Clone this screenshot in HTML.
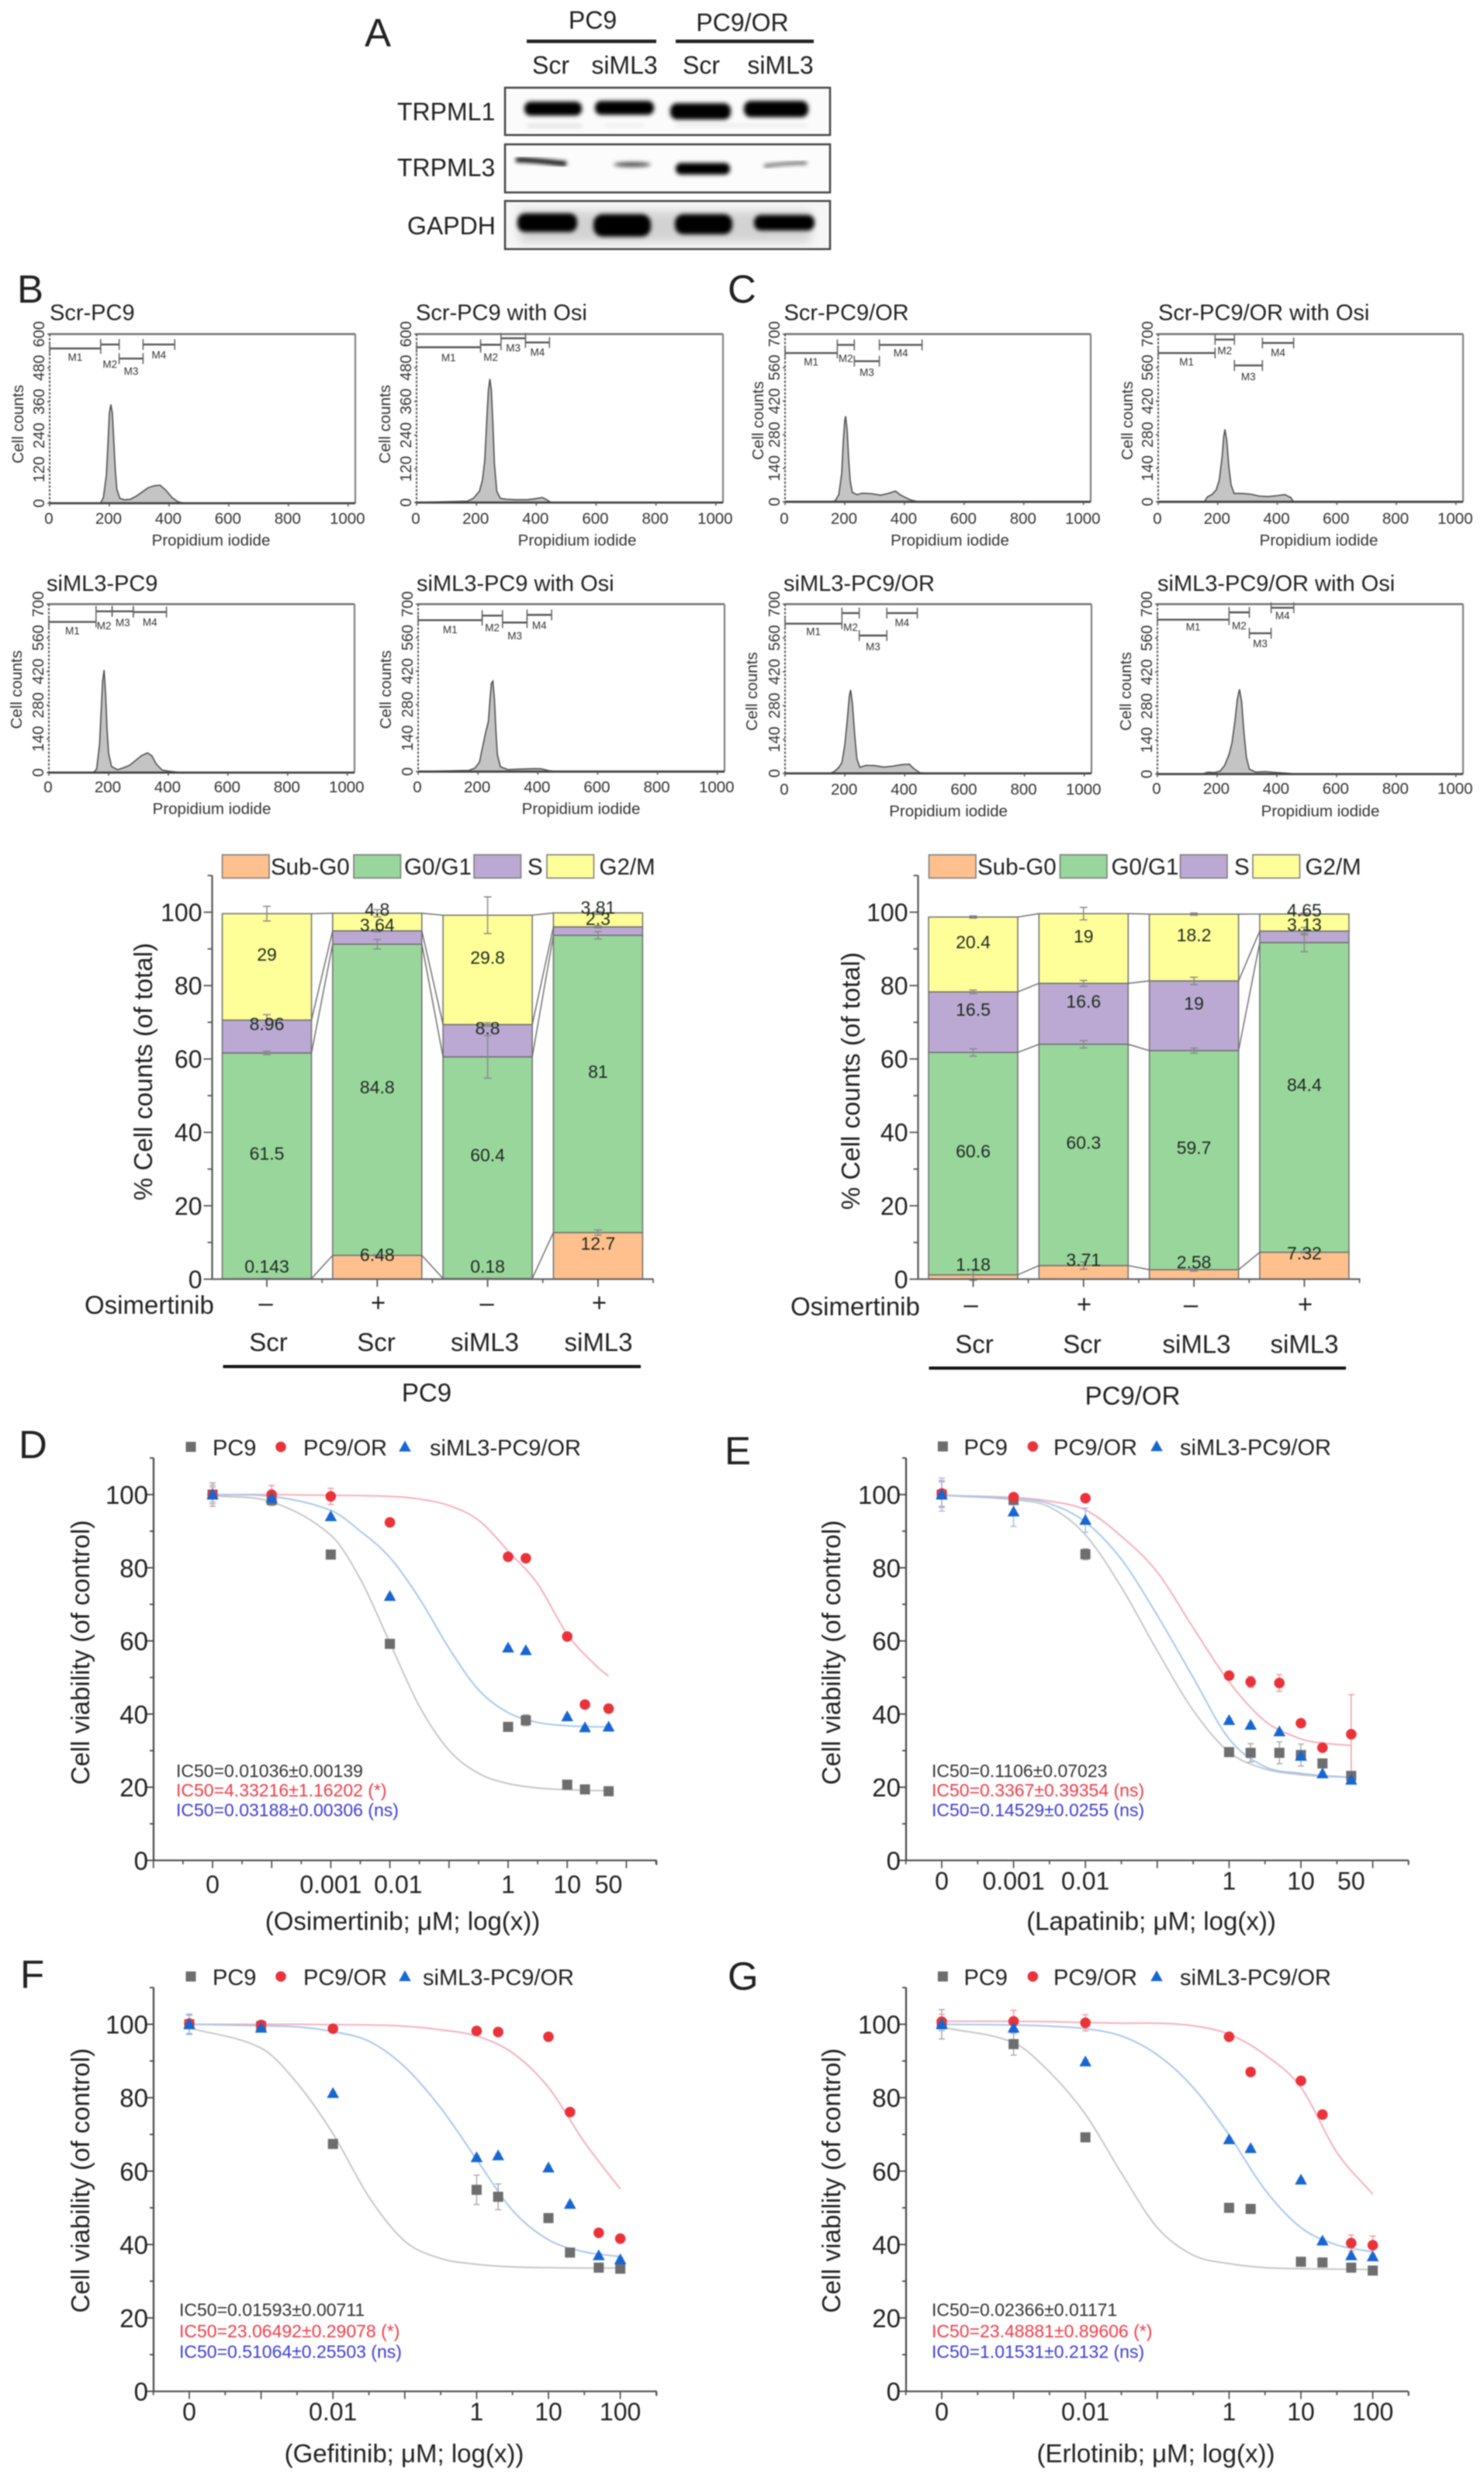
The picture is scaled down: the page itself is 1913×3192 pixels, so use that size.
<!DOCTYPE html>
<html lang="en">
<head>
<meta charset="utf-8">
<title>TRPML3 knockdown in PC9 and PC9/OR cells</title>
<style>
html,body{margin:0;padding:0;background:#fff;}
svg{display:block;filter:blur(0.8px);font-family:"Liberation Sans",Arial,sans-serif;}
text{fill:#222;}
</style>
</head>
<body>
<svg id="figure" xmlns="http://www.w3.org/2000/svg" width="1913" height="3192" viewBox="0 0 1913 3192">
<defs>
<filter id="blot" x="-30%" y="-80%" width="160%" height="260%"><feGaussianBlur stdDeviation="2.6"/></filter>
<filter id="halo" x="-30%" y="-80%" width="160%" height="260%"><feGaussianBlur stdDeviation="6"/></filter>
</defs>
<rect width="1913" height="3192" fill="#fff"/>

<g font-size="51">
<text x="470" y="60">A</text>
<text x="22" y="390">B</text>
<text x="938" y="390">C</text>
<text x="24" y="1879">D</text>
<text x="934" y="1887">E</text>
<text x="26" y="2562">F</text>
<text x="938" y="2564">G</text>
</g>

<g>
<g font-size="32" text-anchor="middle">
<text x="764" y="37">PC9</text>
<text x="957" y="40">PC9/OR</text>
<text x="710" y="95">Scr</text>
<text x="805" y="95">siML3</text>
<text x="904" y="95">Scr</text>
<text x="1006" y="95">siML3</text>
</g>
<rect x="679" y="51" width="167" height="4.5" fill="#222"/>
<rect x="871" y="51" width="178" height="4.5" fill="#222"/>
<g font-size="32">
<text x="512" y="155">TRPML1</text>
<text x="512" y="227">TRPML3</text>
<text x="525" y="302">GAPDH</text>
</g>
<g>
<rect x="651" y="113" width="419" height="61" fill="#fbfbfb" stroke="#444" stroke-width="2.5"/>
<rect x="680" y="160" width="70" height="4" fill="#ddd" filter="url(#blot)"/>
<rect x="780" y="160" width="50" height="3" fill="#e6e6e6" filter="url(#blot)"/>
<rect x="870" y="160" width="170" height="3" fill="#e6e6e6" filter="url(#blot)"/>
<rect x="676" y="131" width="74" height="18" rx="8" fill="#000" filter="url(#blot)"/>
<rect x="767" y="130" width="76" height="18" rx="8" fill="#000" filter="url(#blot)"/>
<rect x="864" y="133" width="78" height="21" rx="9" fill="#000" filter="url(#blot)"/>
<rect x="959" y="130" width="83" height="21" rx="9" fill="#000" filter="url(#blot)"/>
</g>
<g>
<rect x="651" y="186" width="419" height="62" fill="#fcfcfc" stroke="#444" stroke-width="2.5"/>
<path d="M665 206 C690 206 705 209 730 211" stroke="#000" stroke-width="6" fill="none" filter="url(#blot)"/>
<ellipse cx="815" cy="212" rx="24" ry="3" fill="#444" filter="url(#blot)"/>
<rect x="871" y="210" width="70" height="15" rx="7" fill="#000" filter="url(#blot)"/>
<path d="M985 214 C1000 212 1020 210 1040 210" stroke="#444" stroke-width="3.5" fill="none" filter="url(#blot)"/>
</g>
<g>
<rect x="651" y="259" width="419" height="62" fill="#f6f6f6" stroke="#444" stroke-width="2.5"/>
<rect x="670" y="272" width="375" height="40" fill="#bbb" filter="url(#halo)" opacity=".6"/>
<rect x="667" y="275" width="77" height="24" rx="10" fill="#000" filter="url(#blot)"/>
<rect x="765" y="276" width="74" height="29" rx="12" fill="#000" filter="url(#blot)"/>
<rect x="870" y="276" width="74" height="26" rx="11" fill="#000" filter="url(#blot)"/>
<rect x="972" y="277" width="78" height="20" rx="9" fill="#000" filter="url(#blot)"/>
</g>
</g>

<g id="flow-root"></g>
<g id="stack-root"></g>
<g id="dose-root"></g>
</svg>

<script>
/* ---------- flow cytometry data: channels and cell counts ---------- */
const flowXTicks = [0, 200, 400, 600, 800, 1000];
const flowYTicks600 = [0, 120, 240, 360, 480, 600];
const flowYTicks700 = [0, 140, 280, 420, 560, 700];

const scrPc9Channels = [0,170,180,190,195,200,205,210,215,220,225,235,250,270,290,310,330,350,370,390,410,430,450];
const scrPc9Counts = [0,0,20,100,200,320,350,320,220,120,50,18,12,14,25,40,55,62,64,45,20,5,0];
const scrPc9Gates = [[0,171,549,12],[171,233,563,26],[233,313,513,17],[313,419,563,14]];

const scrOsiChannels = [0,170,190,210,220,228,235,240,245,250,255,260,268,280,300,330,370,400,420,435,450];
const scrOsiCounts = [0,5,15,40,80,150,300,400,440,400,280,140,40,15,12,10,10,14,18,10,0];
const scrOsiGates = [[0,214,553,14],[214,282,562,17],[282,364,585,13],[364,444,570,13]];

const siPc9Channels = [0,150,160,170,175,180,185,190,195,200,210,230,250,270,290,310,330,345,360,380,400,440];
const siPc9Counts = [0,0,15,120,250,380,426,330,180,80,25,12,20,30,50,70,82,70,35,10,6,0];
const siPc9Gates = [[0,158,626,12],[158,212,670,19],[212,283,670,15],[283,394,667,14]];

const siOsiChannels = [0,170,190,205,215,225,235,240,245,250,255,260,265,275,300,330,380,410,440,460];
const siOsiCounts = [0,5,15,40,100,160,210,300,370,378,300,170,70,20,8,10,12,12,3,0];
const siOsiGates = [[0,214,633,13],[214,282,652,16],[282,364,623,18],[364,446,655,14]];

const scrOrChannels = [0,160,170,180,190,195,200,203,208,213,218,225,240,260,290,320,345,370,385,400,420,440,460];
const scrOrCounts = [0,0,8,30,120,250,340,357,300,180,90,40,30,36,34,28,35,45,30,20,8,2,0];
const scrOrGates = [[0,175,621,12],[175,232,655,18],[232,316,587,15],[316,459,655,11]];

const scrOrOsiChannels = [0,155,165,180,195,205,215,220,224,230,238,245,255,280,310,340,370,400,425,445,455];
const scrOrOsiCounts = [0,0,20,30,50,90,190,270,302,260,140,70,35,35,32,24,22,26,30,18,0];
const scrOrOsiGates = [[0,191,621,12],[191,256,677,15],[256,350,569,15],[350,455,663,13]];

const siOrChannels = [0,150,165,180,190,200,208,215,219,225,232,240,250,270,300,330,360,390,415,430,450,470];
const siOrCounts = [0,0,8,25,45,120,220,320,345,290,170,60,25,33,32,26,30,36,38,20,3,0];
const siOrGates = [[0,190,619,11],[190,248,663,19],[248,340,570,15],[340,442,663,13]];

const siOrOsiChannels = [0,150,170,190,210,225,240,250,260,268,275,282,290,298,308,330,360,400,440,460];
const siOrOsiCounts = [0,0,8,6,12,35,80,130,220,310,349,300,170,70,20,8,10,6,3,0];
const siOrOsiGates = [[0,240,636,10],[240,308,666,18],[308,381,580,14],[381,457,685,11]];

/* ---------- stacked bar data ---------- */
const stackSeriesNames = ['Sub-G0', 'G0/G1', 'S', 'G2/M'];
const stackYTicks = [0, 20, 40, 60, 80, 100];
const stackDrugMarks = ['–', '+', '–', '+'];
const stackCategories = ['Scr', 'Scr', 'siML3', 'siML3'];

const pc9SubG0 = [0.143, 6.48, 0.18, 12.7];
const pc9G0G1 = [61.5, 84.8, 60.4, 81];
const pc9S = [8.96, 3.64, 8.8, 2.3];
const pc9G2M = [29, 4.8, 29.8, 3.81];
const pc9SubG0Err = [0.1, 0.2, 0.1, 0.7];
const pc9G0G1Err = [0.5, 1.3, 5.8, 1];
const pc9SErr = [1.5, 0.3, 0.5, 0.3];
const pc9G2MErr = [2, 1, 5, 0.4];

const orSubG0 = [1.18, 3.71, 2.58, 7.32];
const orG0G1 = [60.6, 60.3, 59.7, 84.4];
const orS = [16.5, 16.6, 19, 3.13];
const orG2M = [20.4, 19, 18.2, 4.65];
const orSubG0Err = [1.5, 1, 0.4, 0.2];
const orG0G1Err = [1, 1, 0.7, 2.5];
const orSErr = [0.5, 0.8, 1, 1];
const orG2MErr = [0.3, 1.7, 0.3, 0.3];

/* ---------- dose response data ---------- */
const viabilityTicks = [0, 20, 40, 60, 80, 100];
const doseSeriesNames = ['PC9', 'PC9/OR', 'siML3-PC9/OR'];

const osiDoseLog = [-5, -4, -3, -2, 0, 0.3, 1, 1.3, 1.7];
const osiPc9 = [100, 98.5, 83.6, 59.2, 36.5, 38.3, 20.7, 19.4, 18.9];
const osiOr = [100, 100, 99.5, 92.4, 83, 82.6, 61.2, 42.6, 41.5];
const osiSi = [100, 99, 94, 72.2, 58.1, 57.4, 39.3, 36.3, 36.5];
const osiPc9Err = [3.2, 1.5, 0.8, 0.5, 0.8, 1.5, 0.5, 0.5, 0.5];
const osiOrErr = [2.5, 2.5, 2.2, 0.5, 0.5, 0.5, 0.5, 0.5, 0.5];
const osiSiErr = [2, 1.5, 0.5, 0.5, 0.5, 0.5, 0.5, 0.5, 0.5];
const osiFitLog = [-5, -4, -3, -2.5, -2, -1.5, -1, -0.5, 0, 0.5, 1, 1.5, 1.7];
const osiPc9Fit = [99.7, 98, 88.9, 76.9, 59.5, 42.1, 30.1, 23.8, 21, 19.8, 19.3, 19.1, 19.1];
const osiOrFit = [100, 100, 99.8, 99.7, 99.5, 98.8, 97, 93, 84.6, 75.6, 61.8, 53, 50.4];
const osiSiFit = [100, 99.5, 95.7, 90, 82.8, 71.6, 58, 46.6, 40.4, 37.7, 36.8, 36.5, 36.5];
const osiTickLabels = ['0', '0.001', '0.01', '1', '10', '50'];
const osiTickLabelLog = [-5, -3, -1.86, 0, 1, 1.7];
const osiIc50 = ['IC50=0.01036±0.00139', 'IC50=4.33216±1.16202 (*)', 'IC50=0.03188±0.00306 (ns)'];

const lapDoseLog = [-4, -3, -2, 0, 0.3, 0.7, 1, 1.3, 1.7];
const lapPc9 = [100, 98.5, 83.7, 29.6, 29.4, 29.4, 28.8, 26.5, 23.1];
const lapOr = [100.3, 99.3, 99, 50.5, 48.8, 48.5, 37.5, 30.8, 34.5];
const lapSi = [100, 95.3, 93, 38.3, 37, 35.2, 28.5, 23.7, 22];
const lapPc9Err = [3.5, 0.5, 1.5, 1, 2.5, 3, 3, 0.5, 0.5];
const lapOrErr = [3.5, 1, 1, 1, 1.5, 2.3, 0.5, 0.5, 10.8];
const lapSiErr = [4.5, 4, 3.3, 0.5, 0.5, 0.5, 0.5, 0.5, 0.5];
const lapFitLog = [-4, -3, -2.5, -2, -1.5, -1, -0.5, 0, 0.5, 1, 1.3, 1.7];
const lapPc9Fit = [99.8, 98.6, 96.6, 89, 74.7, 57.3, 41, 29.6, 25, 23.4, 23, 22.7];
const lapOrFit = [99.8, 99.2, 98.2, 95.8, 88.6, 78.8, 63.6, 48.8, 38.1, 33.2, 32.1, 31.4];
const lapSiFit = [99.8, 99, 97.5, 92.5, 82.3, 67, 50, 33.2, 25.6, 23.8, 23.2, 22.7];
const lapTickLabels = ['0', '0.001', '0.01', '1', '10', '50'];
const lapTickLabelLog = [-4, -3, -2, 0, 1, 1.7];
const lapIc50 = ['IC50=0.1106±0.07023', 'IC50=0.3367±0.39354 (ns)', 'IC50=0.14529±0.0255 (ns)'];

const gefDoseLog = [-4, -3, -2, 0, 0.3, 1, 1.3, 1.7, 2];
const gefPc9 = [100, 99.5, 67.4, 54.9, 53, 47.2, 37.8, 33.7, 33.4];
const gefOr = [100.2, 99.8, 98.8, 98.2, 97.9, 96.6, 76.1, 43.2, 41.6];
const gefSi = [100, 99, 81.2, 63.7, 64.2, 60.9, 51, 37, 35.9];
const gefPc9Err = [2.5, 1.5, 0.5, 4, 3.5, 0.5, 0.5, 0.5, 0.5];
const gefOrErr = [0.8, 0.5, 0.5, 0.5, 0.5, 0.5, 0.5, 0.5, 0.5];
const gefSiErr = [2.8, 0.8, 0.5, 0.5, 0.5, 0.5, 0.5, 0.5, 0.5];
const gefFitLog = [-4, -3, -2.5, -2, -1.5, -1, -0.5, 0, 0.5, 1, 1.5, 2];
const gefPc9Fit = [99, 93.5, 84, 70.2, 53, 40.9, 36.2, 34.6, 33.9, 33.7, 33.6, 33.6];
const gefOrFit = [100, 100, 100, 99.9, 99.8, 99.5, 98.5, 96.8, 92.2, 82.8, 67.9, 55.1];
const gefSiFit = [100, 99.6, 99.3, 98, 95.4, 88.4, 77.2, 63.2, 49.3, 41.3, 38, 36.7];
const gefTickLabels = ['0', '0.01', '1', '10', '100'];
const gefTickLabelLog = [-4, -2, 0, 1, 2];
const gefIc50 = ['IC50=0.01593±0.00711', 'IC50=23.06492±0.29078 (*)', 'IC50=0.51064±0.25503 (ns)'];

const erlDoseLog = [-4, -3, -2, 0, 0.3, 1, 1.3, 1.7, 2];
const erlPc9 = [100, 94.6, 69.2, 50, 49.7, 35.3, 35.1, 33.7, 32.9];
const erlOr = [100.7, 100.8, 100.4, 96.6, 87, 84.6, 75.4, 40.4, 39.8];
const erlSi = [100, 99, 89.8, 68.6, 66.2, 57.6, 41, 37, 36.7];
const erlPc9Err = [4, 3, 0.5, 0.5, 0.5, 0.5, 0.5, 0.5, 0.5];
const erlOrErr = [2, 3, 2.2, 0.5, 0.5, 0.5, 0.5, 2.2, 2.5];
const erlSiErr = [1.8, 1.5, 0.5, 0.5, 0.5, 0.5, 0.5, 0.5, 0.5];
const erlFitLog = [-4, -3, -2.5, -2, -1.5, -1, -0.5, 0, 0.5, 1, 1.5, 2];
const erlPc9Fit = [99.2, 95, 87, 75.5, 59.5, 44.6, 37.1, 34.8, 33.7, 33.4, 33.3, 33.2];
const erlOrFit = [100.8, 100.8, 100.7, 100.5, 100.3, 100.3, 99.6, 97.3, 91.7, 82.8, 65.1, 53.7];
const erlSiFit = [100, 99.8, 99.5, 98.8, 96.8, 91.7, 82.8, 69.8, 54.9, 44.6, 39.9, 38];
const erlTickLabels = ['0', '0.01', '1', '10', '100'];
const erlTickLabelLog = [-4, -2, 0, 1, 2];
const erlIc50 = ['IC50=0.02366±0.01171', 'IC50=23.48881±0.89606 (*)', 'IC50=1.01531±0.2132 (ns)'];

/* ---------- drawing helpers ---------- */
const NS = 'http://www.w3.org/2000/svg';
function add(parent, tag, attrs, name) {
  const node = document.createElementNS(NS, tag);
  for (const k in attrs) node.setAttribute(k, attrs[k]);
  
  
  parent.appendChild(node);
  return node;
}
function line(parent, x1, y1, x2, y2, stroke, width, name) {
  return add(parent, 'line', {x1, y1, x2, y2, stroke, 'stroke-width': width}, name);
}
function label(parent, x, y, str, size, anchor, fill, name, rotate) {
  const attrs = {x, y, 'font-size': size, 'text-anchor': anchor, style: 'fill:' + fill};
  if (rotate) attrs.transform = 'rotate(-90 ' + x + ' ' + y + ')';
  const t = add(parent, 'text', attrs, name);
  t.textContent = str;
  return t;
}
/* cubic through the points; tangents respect uneven x spacing so no kinks appear */
function smoothPath(pts) {
  const n = pts.length;
  const slope = i => {
    const a = pts[Math.max(i - 1, 0)], b = pts[Math.min(i + 1, n - 1)];
    return (b[1] - a[1]) / (b[0] - a[0]);
  };
  let d = 'M' + pts[0][0].toFixed(1) + ' ' + pts[0][1].toFixed(1);
  for (let i = 0; i < n - 1; i++) {
    const p1 = pts[i], p2 = pts[i + 1], dx = (p2[0] - p1[0]) / 3;
    d += 'C' + (p1[0] + dx).toFixed(1) + ' ' + (p1[1] + slope(i) * dx).toFixed(1) + ' ' +
         (p2[0] - dx).toFixed(1) + ' ' + (p2[1] - slope(i + 1) * dx).toFixed(1) + ' ' +
         p2[0].toFixed(1) + ' ' + p2[1].toFixed(1);
  }
  return d;
}

/* ---------- flow cytometry panels ---------- */
const flowPanels = [
  {id:'scr-pc9', title:'Scr-PC9', ch:scrPc9Channels, n:scrPc9Counts, gates:scrPc9Gates, yMax:600, yTicks:flowYTicks600, box:[64,430.5,458,648.5], tx:64, ty:412.5, tickY:675, lblY:703, lblX:272, ccX:30, ccY:546.6},
  {id:'scr-pc9-osi', title:'Scr-PC9 with Osi', ch:scrOsiChannels, n:scrOsiCounts, gates:scrOsiGates, yMax:600, yTicks:flowYTicks600, box:[537,430.5,932,647.6], tx:536, ty:412.5, tickY:675, lblY:703, lblX:744, ccX:503, ccY:546.6},
  {id:'siml3-pc9', title:'siML3-PC9', ch:siPc9Channels, n:siPc9Counts, gates:siPc9Gates, yMax:700, yTicks:flowYTicks700, box:[63,778.5,457,995.6], tx:60, ty:761.5, tickY:1021, lblY:1049, lblX:273, ccX:28, ccY:888.7},
  {id:'siml3-pc9-osi', title:'siML3-PC9 with Osi', ch:siOsiChannels, n:siOsiCounts, gates:siOsiGates, yMax:700, yTicks:flowYTicks700, box:[539,778.5,934,994.3], tx:537, ty:761.5, tickY:1021, lblY:1049, lblX:749, ccX:504, ccY:888.7},
  {id:'scr-pc9-or', title:'Scr-PC9/OR', ch:scrOrChannels, n:scrOrCounts, gates:scrOrGates, yMax:700, yTicks:flowYTicks700, box:[1012,430.5,1406,646.7], tx:1010.5, ty:412.5, tickY:675, lblY:703, lblX:1224.5, ccX:984, ccY:542},
  {id:'scr-pc9-or-osi', title:'Scr-PC9/OR with Osi', ch:scrOrOsiChannels, n:scrOrOsiCounts, gates:scrOrOsiGates, yMax:700, yTicks:flowYTicks700, box:[1493,430.5,1886,646.7], tx:1493, ty:412.5, tickY:675, lblY:703, lblX:1700, ccX:1460, ccY:542},
  {id:'siml3-pc9-or', title:'siML3-PC9/OR', ch:siOrChannels, n:siOrCounts, gates:siOrGates, yMax:700, yTicks:flowYTicks700, box:[1012,778.5,1407,996.6], tx:1010, ty:761.5, tickY:1024, lblY:1052, lblX:1222.6, ccX:976, ccY:891},
  {id:'siml3-pc9-or-osi', title:'siML3-PC9/OR with Osi', ch:siOrOsiChannels, n:siOrOsiCounts, gates:siOrOsiGates, yMax:700, yTicks:flowYTicks700, box:[1492,778.5,1886,997.5], tx:1492, ty:761.5, tickY:1023, lblY:1052, lblX:1702, ccX:1458, ccY:891}
];
function drawFlow(root, p) {
  const g = add(root, 'g', {}, 'flow-panel-' + p.id);
  const [x0, y0, x1, y1] = p.box;
  const sx = c => x0 + c * (x1 - x0) / 1024;
  const sy = v => y1 - v * (y1 - y0) / p.yMax;
  label(g, p.tx, p.ty, p.title, 29, 'start', '#222', 'flow-title');
  const pts = p.ch.map((c, i) => sx(c).toFixed(1) + ',' + sy(p.n[i]).toFixed(1));
  pts.push(sx(p.ch[p.ch.length - 1]).toFixed(1) + ',' + y1, x0 + ',' + y1);
  add(g, 'polygon', {points: pts.join(' '), fill: '#c4c4c4', stroke: '#555', 'stroke-width': 1.7}, 'flow-histogram');
  line(g, x0, y0, x1, y0, '#707070', 2.6, 'flow-frame-top');
  line(g, x1, y0, x1, y1, '#808080', 2.2, 'flow-frame-right');
  line(g, x0, y1, x1, y1, '#444', 2.8, 'flow-x-axis');
  add(g, 'line', {x1: x0, y1: y0, x2: x0, y2: y1, stroke: '#555', 'stroke-width': 2, 'stroke-dasharray': '3 2'}, 'flow-y-axis');
  flowXTicks.forEach(t => {
    line(g, sx(t), y1, sx(t), y1 + 4, '#555', 1.6, 'flow-x-tick');
    label(g, sx(t) - 1, p.tickY, String(t), 20.5, 'middle', '#333', 'flow-x-tick-label');
  });
  p.yTicks.forEach(t => {
    line(g, x0 - 3, sy(t), x0, sy(t), '#555', 1.6, 'flow-y-tick');
    label(g, x0 - 7, sy(t), String(t), 20, 'middle', '#333', 'flow-y-tick-label', true);
  });
  label(g, p.lblX, p.lblY, 'Propidium iodide', 20.5, 'middle', '#333', 'flow-x-axis-title');
  label(g, p.ccX, p.ccY, 'Cell counts', 20.5, 'middle', '#333', 'flow-y-axis-title', true);
  p.gates.forEach((gate, i) => {
    const a = sx(gate[0]), b = sx(gate[1]), y = sy(gate[2]);
    line(g, a, y, b, y, '#555', 2.4, 'flow-gate-m' + (i + 1));
    line(g, a, y - 7, a, y + 7, '#666', 1.6, 'flow-gate-start');
    line(g, b, y - 7, b, y + 7, '#666', 1.6, 'flow-gate-end');
    label(g, (a + b) / 2, y + gate[3] + 4, 'M' + (i + 1), 13.5, 'middle', '#333', 'flow-gate-label');
  });
}
const flowRoot = document.getElementById('flow-root');
flowPanels.forEach(p => drawFlow(flowRoot, p));

/* ---------- stacked bars ---------- */
const stackColors = ['#ffc08d', '#99d69c', '#bba9d3', '#ffff99'];
const stackCharts = [
  {id:'pc9', group:'PC9', series:[pc9SubG0, pc9G0G1, pc9S, pc9G2M], errs:[pc9SubG0Err, pc9G0G1Err, pc9SErr, pc9G2MErr],
   axisX:273.5, axisEnd:842.5, first:344, titleX:196, titleY:1381, drugX:109, drugY:1693, catY:1741,
   marks:[342.5,487.5,627.5,772.5], cats:[346,485,625,771.5], rule:[287.5,826,1761], grp:[550,1806],
   swatches:[286.5,456,611,705], legendText:[349,521,680,772.5]},
  {id:'pc9-or', group:'PC9/OR', series:[orSubG0, orG0G1, orS, orG2M], errs:[orSubG0Err, orG0G1Err, orSErr, orG2MErr],
   axisX:1183.5, axisEnd:1753.5, first:1254.5, titleX:1108, titleY:1393, drugX:1019, drugY:1695, catY:1743.5,
   marks:[1251.5,1397.5,1535,1682.5], cats:[1256,1395,1542.5,1681.5], rule:[1197.5,1735,1763], grp:[1460,1810],
   swatches:[1197.5,1366.5,1521.5,1615], legendText:[1260,1432.5,1591,1682.5]}
];
function drawStack(root, c) {
  const g = add(root, 'g', {}, 'stacked-bar-chart-' + c.id);
  const y0 = 1648.4, k = 4.729, spacing = 142.3, bw = 115;
  const sy = v => y0 - v * k;
  const sx = i => c.first + i * spacing;
  const tops = c.series[0].map(() => [0]);
  c.series.forEach(s => s.forEach((v, i) => tops[i].push(tops[i][tops[i].length - 1] + v)));
  for (let lvl = 1; lvl <= 4; lvl++) {
    for (let i = 0; i < 3; i++) {
      line(g, sx(i) + bw / 2, sy(tops[i][lvl]), sx(i + 1) - bw / 2, sy(tops[i + 1][lvl]), '#777', 1.6, 'bar-connector');
    }
  }
  c.series.forEach((s, si) => {
    s.forEach((v, i) => {
      add(g, 'rect', {x: sx(i) - bw / 2, y: sy(tops[i][si + 1]), width: bw, height: v * k, fill: stackColors[si], stroke: '#6d6d6d', 'stroke-width': 1.5}, 'bar-' + stackSeriesNames[si].toLowerCase().replace('/', '-') + '-' + (i + 1));
    });
  });
  c.errs.forEach((s, si) => {
    s.forEach((e, i) => {
      const t = tops[i][si + 1], x = sx(i);
      line(g, x, sy(t - e), x, sy(t + e), '#888', 1.5, 'error-bar');
      line(g, x - 5, sy(t + e), x + 5, sy(t + e), '#888', 1.5, 'error-cap');
      line(g, x - 5, sy(t - e), x + 5, sy(t - e), '#888', 1.5, 'error-cap');
    });
  });
  c.series.forEach((s, si) => {
    s.forEach((v, i) => {
      const mid = sy(tops[i][si] + v / 2);
      label(g, sx(i), mid - 16 + 8, String(v), 23, 'middle', '#1f2a1f', 'bar-value-label');
    });
  });
  line(g, c.axisX, sy(110), c.axisX, sy(0), '#555', 2.2, 'y-axis');
  line(g, c.axisX, sy(0), c.axisEnd, sy(0), '#666', 2.2, 'x-axis');
  for (let v = 0; v <= 110; v += 10) {
    const major = v % 20 === 0;
    line(g, c.axisX - (major ? 11 : 6), sy(v), c.axisX, sy(v), '#555', 1.8, 'y-tick');
  }
  stackYTicks.forEach(t => label(g, c.axisX - 13, sy(t) + 11.5, String(t), 32, 'end', '#222', 'y-tick-label'));
  for (let i = 0; i < 4; i++) {
    line(g, sx(i), sy(0), sx(i), sy(0) + 10, '#555', 1.8, 'x-tick');
    line(g, sx(i) + spacing / 2, sy(0), sx(i) + spacing / 2, sy(0) + 5, '#555', 1.6, 'x-minor-tick');
    label(g, c.marks[i], c.drugY - 3, stackDrugMarks[i], 33, 'middle', '#222', 'osimertinib-sign');
    label(g, c.cats[i], c.catY, stackCategories[i], 33, 'middle', '#222', 'category-label');
  }
  label(g, c.titleX, c.titleY, '% Cell counts (of total)', 33, 'middle', '#222', 'y-axis-title', true);
  label(g, c.drugX, c.drugY, 'Osimertinib', 33, 'start', '#222', 'osimertinib-row-label');
  add(g, 'rect', {x: c.rule[0], y: c.rule[2] - 2, width: c.rule[1] - c.rule[0], height: 4, fill: '#111'}, 'group-rule');
  label(g, c.grp[0], c.grp[1], c.group, 33, 'middle', '#222', 'group-label');
  stackSeriesNames.forEach((n, i) => {
    add(g, 'rect', {x: c.swatches[i], y: 1101.5, width: 60.5, height: 30, fill: stackColors[i], stroke: '#777', 'stroke-width': 1.5}, 'legend-swatch');
    label(g, c.legendText[i], 1127, n, 29.5, 'start', '#222', 'legend-entry');
  });
}
const stackRoot = document.getElementById('stack-root');
stackCharts.forEach(c => drawStack(stackRoot, c));

/* ---------- dose response ---------- */
const doseColors = ['#6e6e6e', '#ea3339', '#1766d2'];
const fitColors = ['#c6c6c6', '#f5aebd', '#a6c7ec'];
const errColors = ['#aaa', '#f09aa0', '#9bbfe8'];
const icColors = ['#333', '#ef3b47', '#3d3cd6'];
const doseCharts = [
  {id:'osimertinib', title:'(Osimertinib; μM; log(x))', dose:osiDoseLog, vals:[osiPc9, osiOr, osiSi], errs:[osiPc9Err, osiOrErr, osiSiErr], fitX:osiFitLog, fits:[osiPc9Fit, osiOrFit, osiSiFit], tickLabels:osiTickLabels, tickLog:osiTickLabelLog, ic:osiIc50,
   axisX:198, axisEnd:846.5, xRef:-5, xRefPx:274, dec:76.2, firstMajor:-6, lastMajor:2, y0:2397.4, k:4.714, tickBase:2439.5, titleC:519, titleB:2487, yTitleX:115, yTitleY:2129.5, legY:1875.5, icX:227, icB:[2290,2315,2340.6],
   leg:[246,274,362,391,522,554]},
  {id:'lapatinib', title:'(Lapatinib; μM; log(x))', dose:lapDoseLog, vals:[lapPc9, lapOr, lapSi], errs:[lapPc9Err, lapOrErr, lapSiErr], fitX:lapFitLog, fits:[lapPc9Fit, lapOrFit, lapSiFit], tickLabels:lapTickLabels, tickLog:lapTickLabelLog, ic:lapIc50,
   axisX:1168, axisEnd:1815.5, xRef:-4, xRefPx:1214, dec:92.6, firstMajor:-4, lastMajor:2, y0:2397.4, k:4.714, tickBase:2435, titleC:1484, titleB:2487, yTitleX:1083, yTitleY:2129.5, legY:1875, icX:1201, icB:[2290,2315,2340.6],
   leg:[1215.4,1242.5,1331.4,1358,1491,1521]},
  {id:'gefitinib', title:'(Gefitinib; μM; log(x))', dose:gefDoseLog, vals:[gefPc9, gefOr, gefSi], errs:[gefPc9Err, gefOrErr, gefSiErr], fitX:gefFitLog, fits:[gefPc9Fit, gefOrFit, gefSiFit], tickLabels:gefTickLabels, tickLog:gefTickLabelLog, ic:gefIc50,
   axisX:198, axisEnd:846.5, xRef:-4, xRefPx:244, dec:92.6, firstMajor:-4, lastMajor:2, y0:3081.6, k:4.73, tickBase:3119, titleC:521, titleB:3173, yTitleX:115, yTitleY:2810, legY:2558, icX:231, icB:[2984.5,3012,3038.4],
   leg:[246,274,362,391,522,545]},
  {id:'erlotinib', title:'(Erlotinib; μM; log(x))', dose:erlDoseLog, vals:[erlPc9, erlOr, erlSi], errs:[erlPc9Err, erlOrErr, erlSiErr], fitX:erlFitLog, fits:[erlPc9Fit, erlOrFit, erlSiFit], tickLabels:erlTickLabels, tickLog:erlTickLabelLog, ic:erlIc50,
   axisX:1168, axisEnd:1815.5, xRef:-4, xRefPx:1214, dec:92.6, firstMajor:-4, lastMajor:2, y0:3081.6, k:4.73, tickBase:3119, titleC:1490, titleB:3173, yTitleX:1083, yTitleY:2810, legY:2558, icX:1201, icB:[2984.5,3012,3038.4],
   leg:[1215.4,1242.5,1331.4,1358,1491,1521]}
];
function marker(g, kind, x, y, name) {
  if (kind === 0) return add(g, 'rect', {x: x - 6.5, y: y - 6.5, width: 13, height: 13, fill: doseColors[0]}, name);
  if (kind === 1) return add(g, 'circle', {cx: x, cy: y, r: 6.8, fill: doseColors[1]}, name);
  return add(g, 'polygon', {points: x + ',' + (y - 8) + ' ' + (x + 7.8) + ',' + (y + 6) + ' ' + (x - 7.8) + ',' + (y + 6), fill: doseColors[2]}, name);
}
function drawDose(root, c) {
  const g = add(root, 'g', {}, 'dose-response-chart-' + c.id);
  const sx = lx => c.xRefPx + (lx - c.xRef) * c.dec;
  const sy = v => c.y0 - v * c.k;
  line(g, c.axisX, sy(110), c.axisX, sy(0), '#444', 2.2, 'y-axis');
  line(g, c.axisX, sy(0), c.axisEnd, sy(0), '#555', 2.2, 'x-axis');
  for (let v = 0; v <= 110; v += 10) {
    line(g, c.axisX - (v % 20 === 0 ? 9 : 5), sy(v), c.axisX, sy(v), '#444', 1.8, 'y-tick');
  }
  viabilityTicks.forEach(t => label(g, c.axisX - 7, sy(t) + 12, String(t), 33, 'end', '#222', 'y-tick-label'));
  for (let lx = c.firstMajor - 0.5; sx(lx) <= c.axisEnd + 1; lx += 0.5) {
    if (sx(lx) < c.axisX - 1) continue;
    const major = Number.isInteger(lx);
    line(g, sx(lx), sy(0), sx(lx), sy(0) + (major ? 10 : 5), '#555', 1.8, 'x-tick');
  }
  line(g, c.axisEnd, sy(0), c.axisEnd, sy(0) + 6, '#555', 1.8, 'x-tick-end');
  c.tickLabels.forEach((t, i) => label(g, sx(c.tickLog[i]), c.tickBase, t, 32, 'middle', '#222', 'x-tick-label'));
  label(g, c.yTitleX, c.yTitleY, 'Cell viability (of control)', 33, 'middle', '#222', 'y-axis-title', true);
  label(g, c.titleC, c.titleB, c.title, 33, 'middle', '#222', 'x-axis-title');
  doseSeriesNames.forEach((n, i) => {
    marker(g, i, c.leg[i * 2], c.legY - 11, 'legend-marker');
    label(g, c.leg[i * 2 + 1], c.legY, n, 29, 'start', '#222', 'legend-entry');
  });
  c.fits.forEach((f, i) => {
    const pts = c.fitX.map((lx, j) => [sx(lx), sy(f[j])]);
    add(g, 'path', {d: smoothPath(pts), fill: 'none', stroke: fitColors[i], 'stroke-width': 2}, 'fit-curve-' + (i + 1));
  });
  c.vals.forEach((vals, i) => {
    vals.forEach((v, j) => {
      const x = sx(c.dose[j]), e = c.errs[i][j];
      line(g, x, sy(v - e), x, sy(v + e), errColors[i], 1.5, 'point-error-bar');
      line(g, x - 4, sy(v + e), x + 4, sy(v + e), errColors[i], 1.5, 'point-error-cap');
      line(g, x - 4, sy(v - e), x + 4, sy(v - e), errColors[i], 1.5, 'point-error-cap');
    });
  });
  c.vals.forEach((vals, i) => {
    vals.forEach((v, j) => {
      marker(g, i, sx(c.dose[j]), sy(v), 'data-point');
    });
  });
  c.ic.forEach((s, i) => label(g, c.icX, c.icB[i], s, 23, 'start', icColors[i], 'ic50-annotation'));
}
const doseRoot = document.getElementById('dose-root');
doseCharts.forEach(c => drawDose(doseRoot, c));
</script>
</body>
</html>
